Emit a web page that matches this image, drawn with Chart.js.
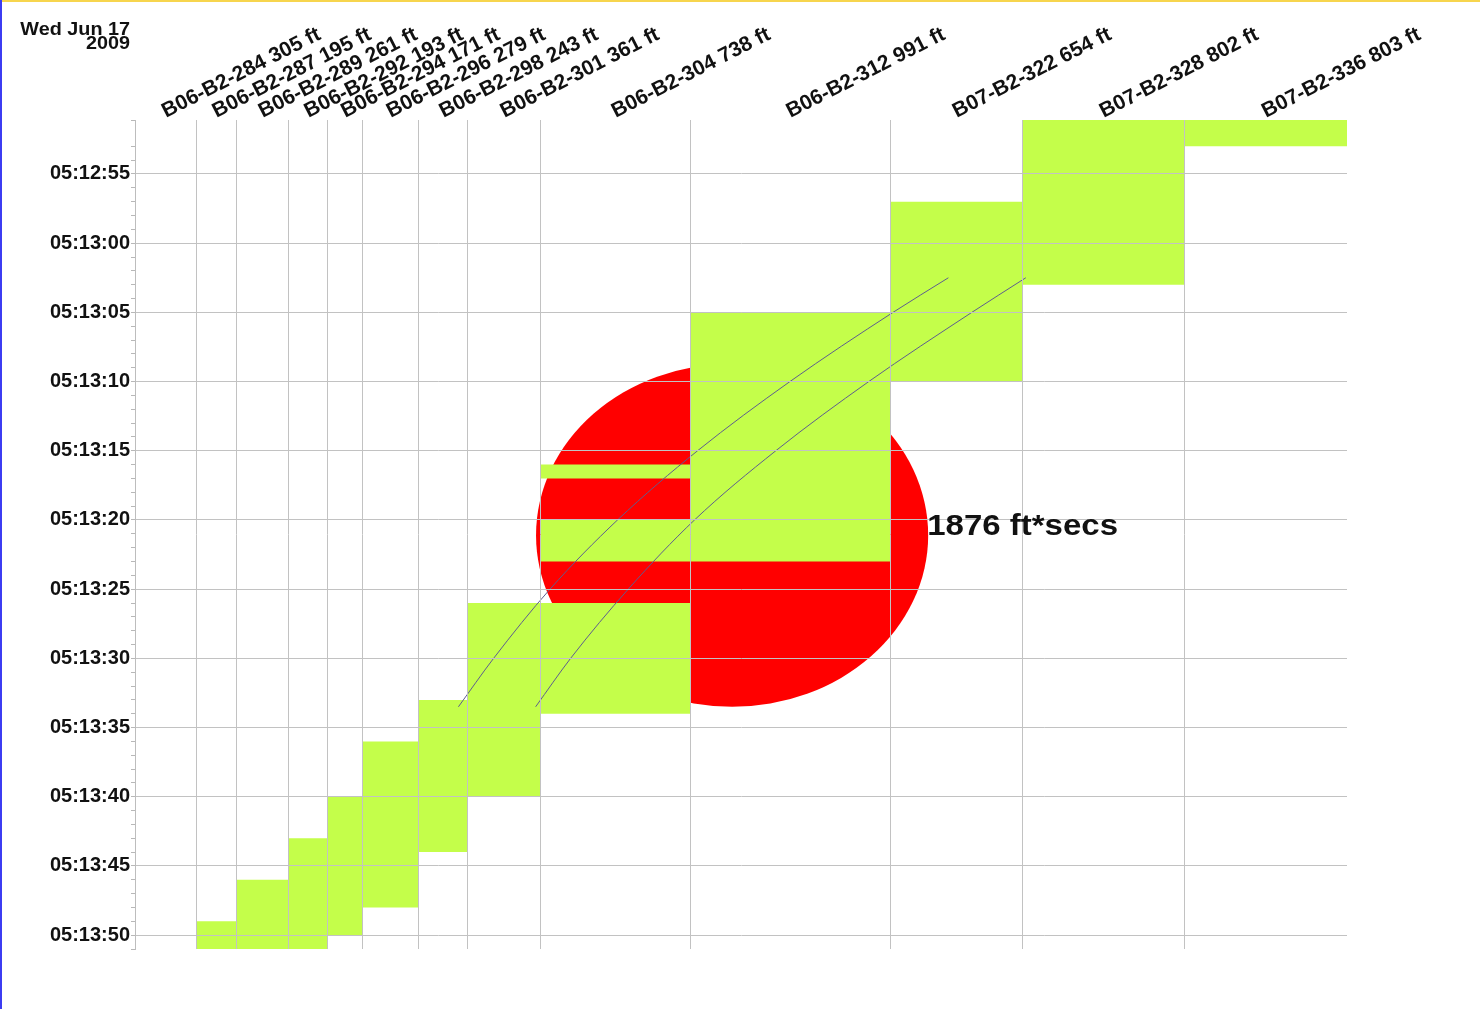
<!DOCTYPE html>
<html><head><meta charset="utf-8">
<script src="https://cdn.jsdelivr.net/npm/chart.js@4"></script>
<style>
html,body{margin:0;padding:0;background:#fff;}
#wrap{position:relative;width:1480px;height:1009px;overflow:hidden;}
#c{position:absolute;left:0;top:0;}
.bt{position:absolute;left:0;top:0;width:1480px;height:2px;background:#f7d54e;}
.bl{position:absolute;left:0;top:0;width:2px;height:1009px;background:#3c3cf2;}
</style></head><body>
<div id="wrap"><canvas id="c" width="1480" height="1009"></canvas><div class="bt"></div><div class="bl"></div></div>
<script>
// Track circuits (left to right) and their lengths
const circuitNames = ['B06-B2-284','B06-B2-287','B06-B2-289','B06-B2-292','B06-B2-294','B06-B2-296','B06-B2-298','B06-B2-301','B06-B2-304','B06-B2-312','B07-B2-322','B07-B2-328','B07-B2-336'];
const circuitLengthsFt = [305,195,261,193,171,279,243,361,738,991,654,802,803];

// Occupancy intervals (seconds after 05:12:00)
const occCircuitIndex = [1,2,3,4,5,6,7,8,8,8,9,10,11,12];
const occStartSec     = [109,106,103,100,96,93,86,76,80,86,65,57,51,51];
const occEndSec       = [111,111,111,110,108,104,100,77,83,94,83,70,63,53];

// Train position curves
const frontFt  = [1600,1774,2053,2387,2783,3240,3750,4024];
const frontSec = [93.5,90,85,80,75,70,65,62.5];
const rearFt   = [1982,2155,2440,2768,3170,3630,4140,4407];
const rearSec  = [93.5,90,85,80,75,70,65,62.5];

// Time axis
const timeMinSec = 51.1, timeMaxSec = 111;
const baseHour = 5, baseMinute = 12;
const majorTickSec = 5;

// Ellipse (lost-occupancy area)
const ellipseCenterFt = 2954, ellipseCenterSec = 81.1, ellipseRadiusFt = 970, ellipseRadiusSec = 12.4;
const ellipseLabel = '1876 ft*secs';
const dateLine1 = 'Wed Jun 17', dateLine2 = '2009';

const GREEN = '#c4fe4a', RED = '#ff0000', GRID = '#c2c2c2', LINE = '#5e5e8e';
const FONT = '"Liberation Sans", Arial, Helvetica, sans-serif';

// derived positions
const boundaries = [0];
circuitLengthsFt.forEach((l,i)=>boundaries.push(boundaries[i]+l));
const totalFt = boundaries[boundaries.length-1];
const centers = circuitLengthsFt.map((l,i)=>boundaries[i]+l/2);
const xLabels = circuitNames.map((n,i)=>n+' '+circuitLengthsFt[i]+' ft');

function pad(n){return String(n).padStart(2,'0');}
function fmtTime(sec){
  const total = baseHour*3600 + baseMinute*60 + sec;
  const h = Math.floor(total/3600), m = Math.floor((total%3600)/60), s = Math.round(total%60);
  return pad(h)+':'+pad(m)+':'+pad(s);
}

const datasets = [];
datasets.push({data: frontFt.map((x,i)=>({x, y: frontSec[i]})), borderColor: LINE, borderWidth: 1, pointRadius: 0, fill: false, cubicInterpolationMode: 'monotone', order: 0});
datasets.push({data: rearFt.map((x,i)=>({x, y: rearSec[i]})), borderColor: LINE, borderWidth: 1, pointRadius: 0, fill: false, cubicInterpolationMode: 'monotone', order: 0});
occCircuitIndex.forEach((ci,k)=>{
  datasets.push({
    data: [{x: boundaries[ci], y: occStartSec[k]}, {x: boundaries[ci+1], y: occStartSec[k]}],
    fill: {value: occEndSec[k]}, backgroundColor: GREEN, borderWidth: 0, borderColor: 'rgba(0,0,0,0)',
    pointRadius: 0, order: 1
  });
});

const extrasPlugin = {
  id: 'extras',
  beforeDatasetsDraw(chart){
    const {ctx, chartArea: a, scales: {x, y}} = chart;
    const cx = x.getPixelForValue(ellipseCenterFt), cy = y.getPixelForValue(ellipseCenterSec);
    const rx = Math.abs(x.getPixelForValue(ellipseCenterFt + ellipseRadiusFt) - cx);
    const ry = Math.abs(y.getPixelForValue(ellipseCenterSec + ellipseRadiusSec) - cy);
    ctx.save();
    ctx.beginPath(); ctx.rect(a.left, a.top, a.width, a.height); ctx.clip();
    ctx.beginPath(); ctx.ellipse(cx, cy, rx, ry, 0, 0, Math.PI*2);
    ctx.fillStyle = RED; ctx.fill();
    ctx.restore();
  },
  afterDraw(chart){
    const {ctx, chartArea: a, scales: {x, y}} = chart;
    ctx.save();
    ctx.fillStyle = '#111';
    ctx.font = 'bold 30px ' + FONT;
    ctx.textAlign = 'left'; ctx.textBaseline = 'alphabetic';
    const lx = x.getPixelForValue(ellipseCenterFt + ellipseRadiusFt) - 1;
    const ly = y.getPixelForValue(ellipseCenterSec);
    ctx.translate(lx, ly); ctx.scale(1.1, 1); ctx.fillText(ellipseLabel, 0, 0);
    ctx.restore();

    ctx.save();
    ctx.fillStyle = '#111';
    ctx.font = 'bold 18px ' + FONT;
    ctx.textAlign = 'right'; ctx.textBaseline = 'alphabetic';
    ctx.translate(a.left - 5, 0); ctx.scale(1.1, 1);
    ctx.fillText(dateLine1, 0, 35);
    ctx.fillText(dateLine2, 0, 49);
    ctx.restore();
  }
};

new Chart(document.getElementById('c'), {
  type: 'line',
  data: {datasets},
  plugins: [extrasPlugin],
  options: {
    responsive: false, animation: false, devicePixelRatio: 1,
    layout: {padding: {left: 0, top: 0, right: 133, bottom: 60}},
    plugins: {legend: {display: false}, tooltip: {enabled: false}},
    elements: {line: {tension: 0}},
    scales: {
      x: {
        type: 'linear', position: 'top', min: 0, max: totalFt,
        afterBuildTicks: s => { s.ticks = centers.map(v => ({value: v})); },
        afterFit: s => { s.height = 120; },
        grid: {display: false, drawTicks: false},
        border: {display: false},
        ticks: {
          autoSkip: false, minRotation: 27, maxRotation: 27, padding: -4, labelOffset: 9,
          color: '#111', font: {family: FONT, size: 21, weight: 'bold'},
          callback: (v, i) => xLabels[i]
        }
      },
      x2: {
        type: 'linear', position: 'bottom', min: 0, max: totalFt,
        afterBuildTicks: s => { s.ticks = boundaries.slice(1, -1).map(v => ({value: v})); },
        afterFit: s => { s.height = 0; },
        grid: {color: GRID, lineWidth: 1, z: 1, drawTicks: false},
        border: {display: false},
        ticks: {display: false}
      },
      y: {
        type: 'linear', position: 'left', reverse: true, min: timeMinSec, max: timeMaxSec,
        afterFit: s => { s.width = 135; },
        grid: {
          z: 1, lineWidth: 1, tickLength: 4,
          color: c => (Math.abs(c.tick.value % majorTickSec) < 1e-6 ? GRID : 'rgba(0,0,0,0)'),
          tickColor: '#b8b8b8'
        },
        border: {display: true, color: '#bdbdbd', z: 1},
        ticks: {
          stepSize: 1, autoSkip: false, padding: 1,
          color: '#111', font: {family: FONT, size: 20, weight: 'bold'},
          callback: v => (Math.abs(v % majorTickSec) < 1e-6 ? fmtTime(v) : '')
        }
      }
    }
  }
});
</script>
</body></html>
